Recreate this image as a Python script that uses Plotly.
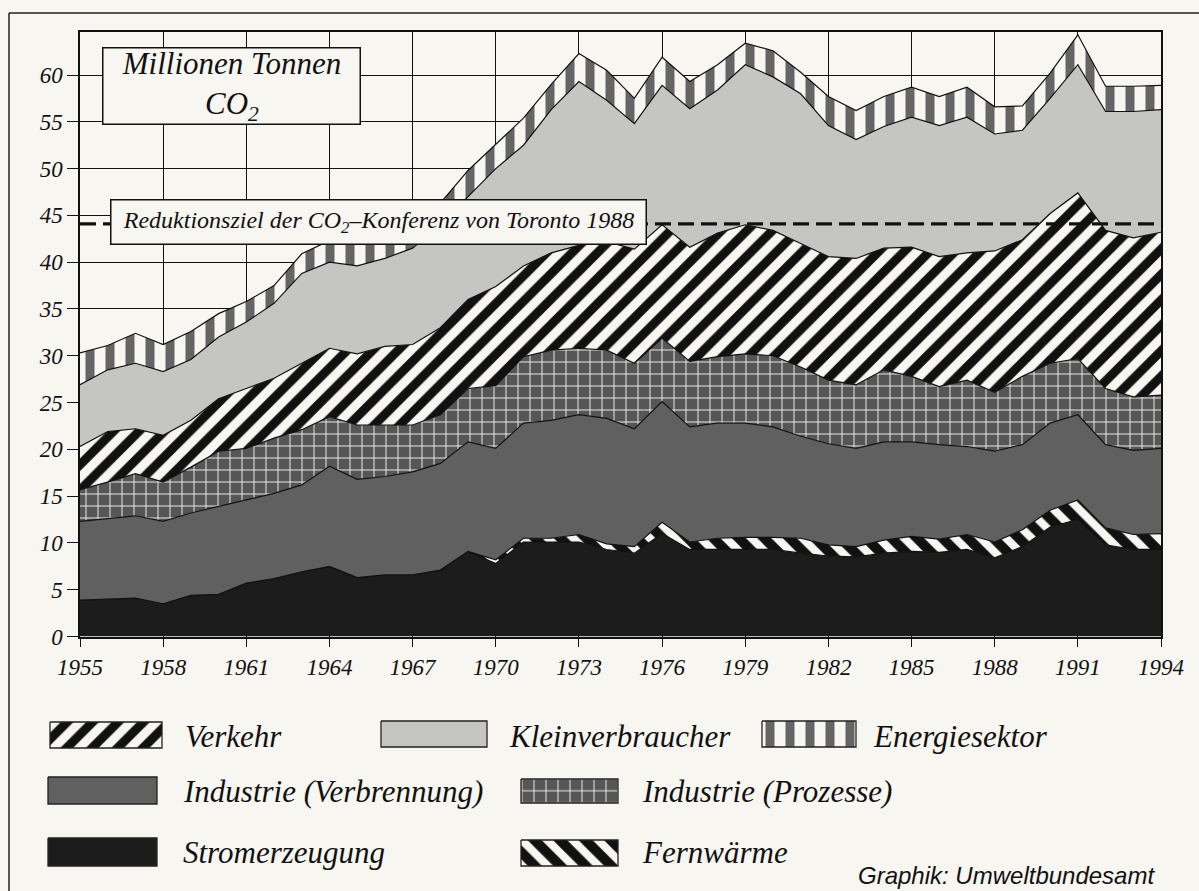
import plotly.graph_objects as go

# CO2 emissions in Germany (West), million tonnes, by sector
years = list(range(1955, 1995))

stromerzeugung = [3.9, 4.0, 4.1, 3.5, 4.4, 4.5, 5.7, 6.2, 6.9, 7.5,
                  6.3, 6.6, 6.6, 7.1, 9.1, 7.8, 10.1, 10.1, 10.1, 9.3,
                  8.9, 11.0, 9.3, 9.3, 9.3, 9.3, 8.9, 8.6, 8.5, 8.9,
                  9.1, 9.0, 9.3, 8.4, 9.6, 11.7, 12.5, 9.8, 9.3, 9.3]
fernwaerme = [0, 0, 0, 0, 0, 0, 0, 0, 0, 0,
              0, 0, 0, 0, 0, 0.4, 0.4, 0.4, 0.8, 0.6,
              0.7, 1.2, 0.8, 1.2, 1.3, 1.3, 1.6, 1.2, 1.1, 1.4,
              1.6, 1.4, 1.6, 1.7, 1.8, 1.8, 2.1, 1.8, 1.6, 1.7]
industrie_verbrennung = [8.4, 8.6, 8.8, 8.8, 8.8, 9.4, 8.9, 9.1, 9.3, 10.7,
                         10.5, 10.5, 11.0, 11.4, 11.7, 11.9, 12.3, 12.6, 12.8, 13.4,
                         12.6, 12.9, 12.3, 12.3, 12.2, 11.8, 10.9, 10.8, 10.5, 10.5,
                         10.1, 10.1, 9.4, 9.7, 9.1, 9.3, 9.1, 8.9, 9.0, 9.1]
industrie_prozesse = [3.4, 3.9, 4.5, 4.2, 4.9, 5.9, 5.5, 5.9, 5.9, 5.3,
                      5.8, 5.5, 5.0, 5.2, 5.7, 6.7, 7.1, 7.5, 7.1, 7.3,
                      7.0, 6.8, 7.0, 7.1, 7.4, 7.6, 7.4, 6.8, 6.8, 7.7,
                      7.0, 6.2, 7.1, 6.3, 7.3, 6.4, 6.0, 6.0, 5.7, 5.7]
verkehr = [4.6, 5.4, 4.8, 5.0, 5.0, 5.6, 6.4, 6.4, 7.1, 7.3,
           7.6, 8.4, 8.6, 9.3, 9.5, 10.6, 9.7, 10.4, 11.0, 11.6,
           12.2, 12.1, 12.2, 13.2, 13.8, 13.4, 13.2, 13.2, 13.5, 13.0,
           13.8, 13.9, 13.6, 15.1, 14.6, 16.0, 17.7, 16.9, 17.0, 17.4]
kleinverbraucher = [6.6, 6.6, 7.0, 6.8, 6.5, 6.6, 7.1, 8.0, 9.6, 9.2,
                    9.4, 9.4, 10.3, 11.0, 11.0, 12.6, 12.9, 15.3, 17.5, 15.1,
                    13.4, 14.9, 14.8, 15.3, 17.1, 16.4, 16.0, 14.0, 12.7, 13.0,
                    13.9, 14.0, 14.5, 12.5, 11.7, 12.3, 13.7, 12.7, 13.5, 13.1]
energiesektor = [3.4, 2.6, 3.2, 2.9, 3.0, 2.5, 2.2, 1.9, 2.1, 2.3,
                 2.4, 2.2, 2.3, 2.3, 2.8, 2.6, 2.9, 2.7, 3.0, 3.2,
                 2.7, 3.0, 2.9, 2.7, 2.3, 2.8, 2.3, 3.1, 3.1, 3.2,
                 3.2, 3.1, 3.2, 2.9, 2.6, 2.7, 3.2, 2.7, 2.7, 2.6]

toronto_ziel = 44.1
x_ticks = list(range(1955, 1995, 3))
y_ticks = list(range(0, 61, 5))

W, H = 1199, 891
PAPER = "#f7f6f1"
SERIF = "Liberation Serif"

# plot area in pixels
L, R, T, B = 80, 1161, 32, 636.5

styles = {
    "Stromerzeugung": dict(fillcolor="#1c1c1c"),
    "Fernwärme": dict(fillpattern=dict(shape="\\", fgcolor="#111111", bgcolor=PAPER,
                                       fgopacity=1, size=18, solidity=0.55)),
    "Industrie (Verbrennung)": dict(fillcolor="#606060"),
    "Industrie (Prozesse)": dict(fillpattern=dict(shape="+", fgcolor="#f0f0f0", bgcolor="#565656",
                                                  fgopacity=1, size=12, solidity=0.15)),
    "Verkehr": dict(fillpattern=dict(shape="/", fgcolor="#111111", bgcolor=PAPER,
                                     fgopacity=1, size=18, solidity=0.5)),
    "Kleinverbraucher": dict(fillcolor="#c5c5c3"),
    "Energiesektor": dict(fillpattern=dict(shape="|", fgcolor="#656565", bgcolor=PAPER,
                                           fgopacity=1, size=20, solidity=0.45)),
}

series = [
    ("Stromerzeugung", stromerzeugung),
    ("Fernwärme", fernwaerme),
    ("Industrie (Verbrennung)", industrie_verbrennung),
    ("Industrie (Prozesse)", industrie_prozesse),
    ("Verkehr", verkehr),
    ("Kleinverbraucher", kleinverbraucher),
    ("Energiesektor", energiesektor),
]

fig = go.Figure()
for name, vals in series:
    fig.add_trace(go.Scatter(
        x=years, y=vals, name=name, stackgroup="co2", mode="lines",
        line=dict(color="#111111", width=1.2), hoverinfo="skip",
        showlegend=False, **styles[name]))

# hand-drawn legend below the chart (pixel coordinates on a hidden axis pair)
legend_items = [
    ("Verkehr", 50, 162, 722, 748, 183, 736),
    ("Kleinverbraucher", 381, 487, 721, 747, 507, 736),
    ("Energiesektor", 762, 856, 721, 747, 871, 736),
    ("Industrie (Verbrennung)", 48, 157, 777, 804, 181, 791),
    ("Industrie (Prozesse)", 521, 618, 779, 803, 640, 791),
    ("Stromerzeugung", 48, 157, 838, 866, 181, 852),
    ("Fernwärme", 521, 618, 840, 866, 640, 852),
]
annotations = []
for name, x0, x1, y0, y1, tx, ty in legend_items:
    fig.add_trace(go.Scatter(
        x=[x0, x1, x1, x0, x0], y=[y0, y0, y1, y1, y0], xaxis="x2", yaxis="y2",
        mode="lines", fill="toself", line=dict(color="#222222", width=1.3),
        hoverinfo="skip", showlegend=False, **styles[name]))
    annotations.append(dict(
        x=tx, y=ty, xref="x2", yref="y2", xanchor="left", yanchor="middle",
        text=name, showarrow=False,
        font=dict(family=SERIF, size=31, color="#111111", style="italic")))

annotations.append(dict(
    x=1157, y=875, xref="x2", yref="y2", xanchor="right", yanchor="middle",
    text="Graphik: Umweltbundesamt", showarrow=False,
    font=dict(family="Liberation Sans", size=24, color="#111111", style="italic")))


def px_x(p):
    return p / W


def px_y(p):
    return 1 - p / H


# unit box
annotations.append(dict(
    x=px_x(231.5), y=px_y(86), xref="paper", yref="paper",
    xanchor="center", yanchor="middle", showarrow=False,
    text="Millionen Tonnen<br>CO<sub>2</sub>",
    width=256, height=75, borderpad=0, bgcolor=PAPER,
    bordercolor="#111111", borderwidth=1.5,
    font=dict(family=SERIF, size=31, color="#111111", style="italic")))

# target label box
annotations.append(dict(
    x=px_x(378.5), y=px_y(222), xref="paper", yref="paper",
    xanchor="center", yanchor="middle", showarrow=False,
    text="Reduktionsziel der CO<sub>2</sub>–Konferenz von Toronto 1988",
    width=534, height=43, borderpad=0, bgcolor=PAPER,
    bordercolor="#111111", borderwidth=1.5,
    font=dict(family=SERIF, size=24, color="#111111", style="italic")))

shapes = [
    dict(type="line", xref="x", yref="y", x0=years[0], x1=years[-1] + 0.15,
         y0=toronto_ziel, y1=toronto_ziel, layer="above",
         line=dict(color="#111111", width=3.2, dash="16px,7px")),
    # outer frame
    dict(type="line", xref="paper", yref="paper", x0=9 / W, x1=1.0,
         y0=1 - 13 / H, y1=1 - 13 / H, line=dict(color="#222222", width=1.5)),
    dict(type="line", xref="paper", yref="paper", x0=9 / W, x1=9 / W,
         y0=0, y1=1 - 13 / H, line=dict(color="#222222", width=1.5)),
]

axis_font = dict(family=SERIF, size=23, color="#111111", style="italic")

fig.update_layout(
    width=W, height=H, margin=dict(l=0, r=0, t=0, b=0),
    paper_bgcolor=PAPER, plot_bgcolor=PAPER,
    xaxis=dict(domain=[L / W, R / W], range=[years[0], years[-1]],
               tickvals=x_ticks, ticks="outside", ticklen=9, tickwidth=1.3,
               tickcolor="#111111", tickfont=axis_font,
               showgrid=True, gridcolor="#111111", gridwidth=1.2,
               showline=True, linecolor="#111111", linewidth=1.5, mirror=True,
               zeroline=False, automargin=False, fixedrange=True),
    yaxis=dict(domain=[1 - B / H, 1 - T / H], range=[0, (B - T) / 9.358],
               tickvals=y_ticks, ticks="outside", ticklen=11, tickwidth=1.3,
               tickcolor="#111111", tickfont=axis_font,
               showgrid=True, gridcolor="#111111", gridwidth=1.2,
               showline=True, linecolor="#111111", linewidth=1.5, mirror=True,
               zeroline=False, automargin=False, fixedrange=True),
    xaxis2=dict(domain=[0, 1], range=[0, W], visible=False, fixedrange=True),
    yaxis2=dict(domain=[0, 0.2], range=[H, H - 0.2 * H], visible=False, fixedrange=True),
    annotations=annotations, shapes=shapes,
)

fig.write_html("out.html")
